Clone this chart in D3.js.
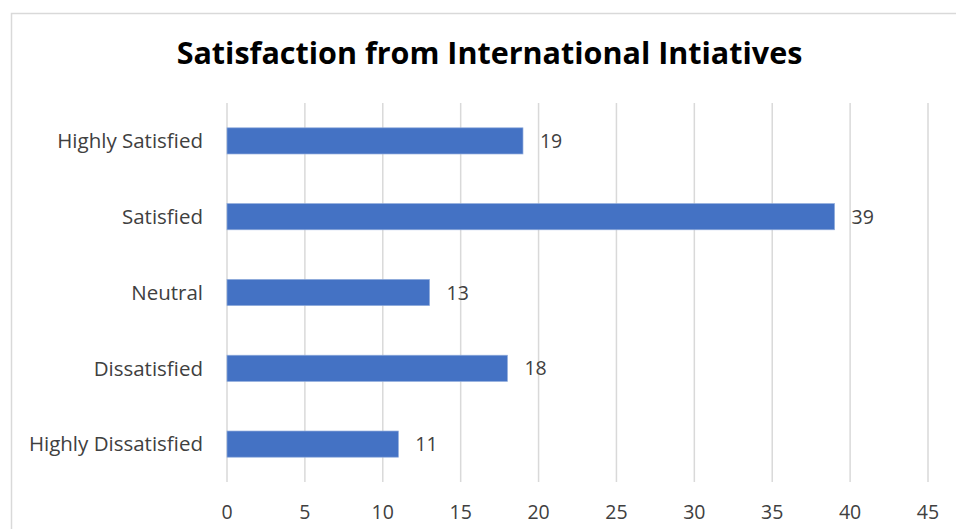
<!DOCTYPE html>
<html><head><meta charset="utf-8">
<script src="https://cdn.jsdelivr.net/npm/d3@7"></script>
<style>body{margin:0;background:#fff;}svg{display:block;}</style>
</head><body>
<svg id="c" width="956" height="529"></svg>
<script>
const categories = ["Highly Satisfied","Satisfied","Neutral","Dissatisfied","Highly Dissatisfied"];
const values = [19,39,13,18,11];
const xTicks = [0,5,10,15,20,25,30,35,40,45];
const title = "Satisfaction from International Intiatives";

const svg = d3.select("#c");
const font = "'Open Sans', sans-serif";
svg.append("rect").attr("x",11.5).attr("y",13.5).attr("width",960).attr("height",540)
  .attr("fill","#fff").attr("stroke","#d9d9d9").attr("stroke-width",1.5);

const x = d3.scaleLinear().domain([0,45]).range([227,928]);
const y = d3.scaleBand().domain(categories).range([103,482]).paddingInner(0.655).paddingOuter(0.3275);

svg.append("g").selectAll("line").data(xTicks).join("line")
  .attr("x1",d=>x(d)).attr("x2",d=>x(d)).attr("y1",103).attr("y2",482)
  .attr("stroke","#d9d9d9").attr("stroke-width",1.5);

svg.append("g").selectAll("rect").data(values).join("rect")
  .attr("x",x(0)).attr("y",(d,i)=>y(categories[i]))
  .attr("width",d=>x(d)-x(0)).attr("height",y.bandwidth())
  .attr("fill","#4472C4").attr("stroke","#8eaadb").attr("stroke-width",0.7);

svg.append("g").selectAll("text").data(values).join("text")
  .attr("x",d=>x(d)+17).attr("y",(d,i)=>y(categories[i])+y.bandwidth()/2)
  .attr("dy","0.36em").attr("font-family",font).attr("font-size",19.5).attr("fill","#404040")
  .text(d=>d);

svg.append("g").selectAll("text").data(categories).join("text")
  .attr("x",203).attr("y",d=>y(d)+y.bandwidth()/2).attr("dy","0.36em")
  .attr("text-anchor","end").attr("font-family",font).attr("font-size",20.5).attr("fill","#404040")
  .text(d=>d);

svg.append("g").selectAll("text").data(xTicks).join("text")
  .attr("x",d=>x(d)).attr("y",518.5).attr("text-anchor","middle")
  .attr("font-family",font).attr("font-size",19.5).attr("fill","#404040").text(d=>d);

svg.append("text").attr("x",489.5).attr("y",63.5).attr("text-anchor","middle")
  .attr("font-family",font).attr("font-weight","bold").attr("font-size",30.5).attr("fill","#000")
  .text(title);
</script>
</body></html>
